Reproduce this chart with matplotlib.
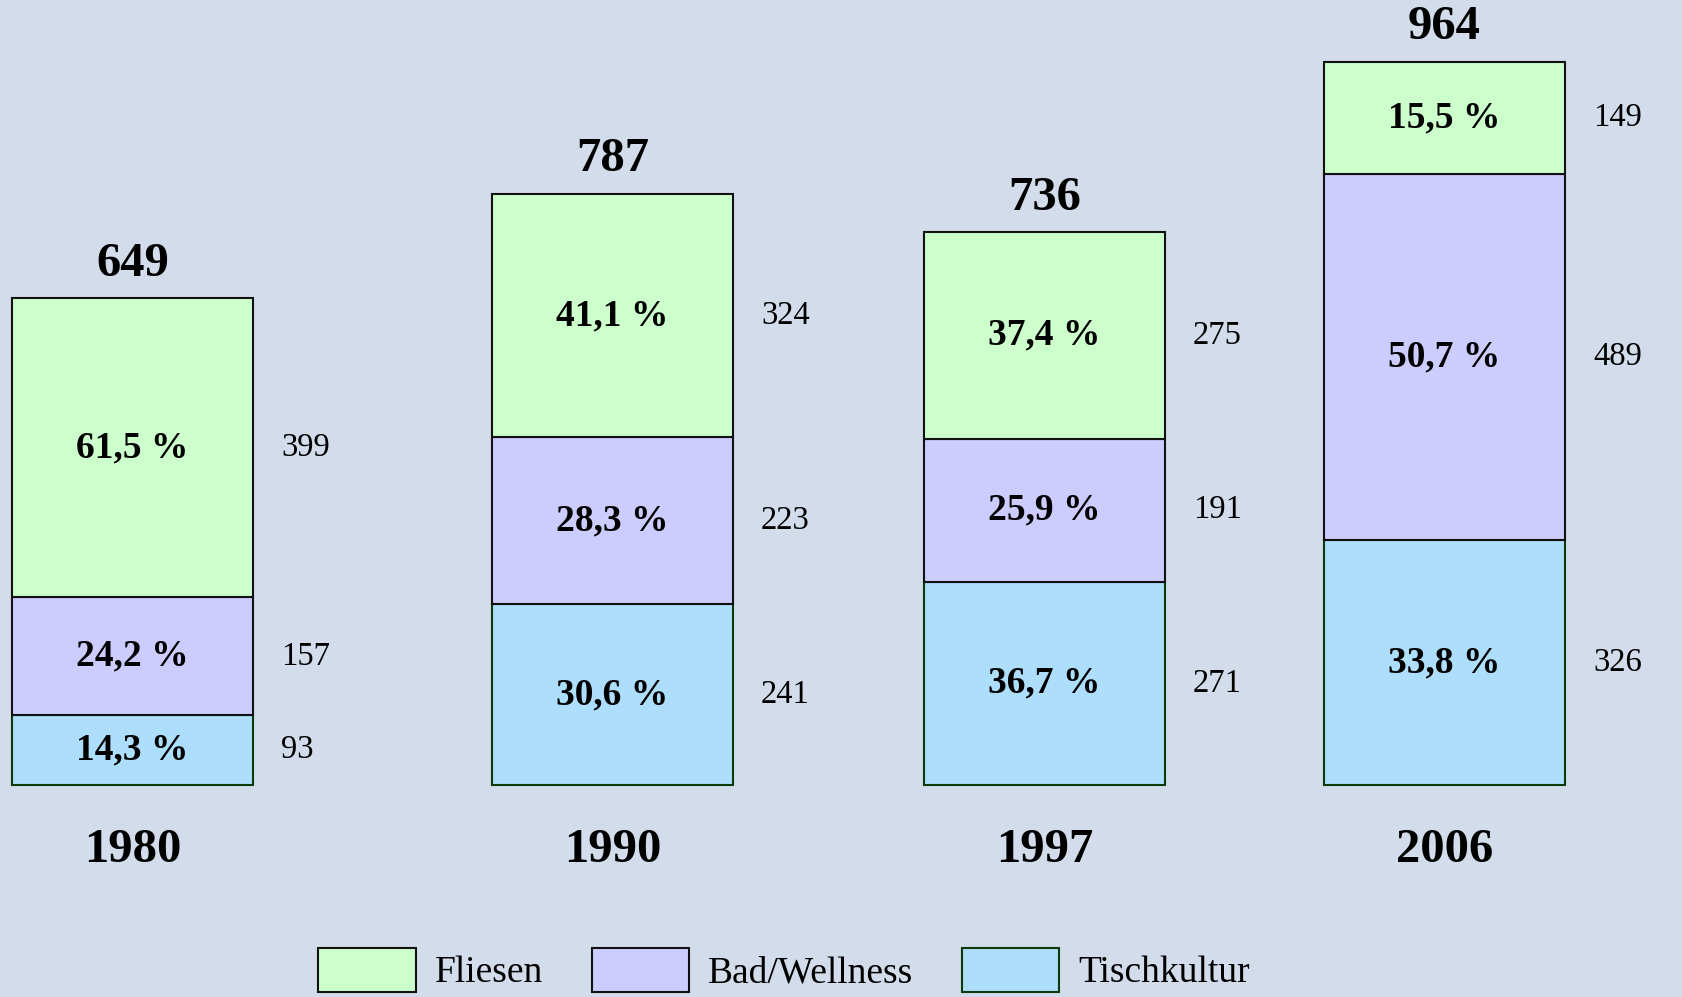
import matplotlib
matplotlib.use("Agg")
import matplotlib.pyplot as plt
from matplotlib.patches import Patch

plt.rcParams['font.family'] = ['Liberation Serif', 'DejaVu Serif']

# data
years = ["1980", "1990", "1997", "2006"]
totals = [649, 787, 736, 964]
tischkultur = [93, 241, 271, 326]
bad_wellness = [157, 223, 191, 489]
fliesen = [399, 324, 275, 149]
pct_tisch = ["14,3 %", "30,6 %", "36,7 %", "33,8 %"]
pct_bad = ["24,2 %", "28,3 %", "25,9 %", "50,7 %"]
pct_fliesen = ["61,5 %", "41,1 %", "37,4 %", "15,5 %"]
series_names = ["Fliesen", "Bad/Wellness", "Tischkultur"]

# layout (pixel-like x coordinates)
x_pos = [132.5, 612.5, 1044.5, 1444.5]
bar_w = 241

bg = "#D2DCEA"
c_fliesen = "#CCFFCC"
c_bad = "#CCCCFF"
c_tisch = "#ADDEFC"

fig = plt.figure(figsize=(16.83, 9.97), dpi=100, facecolor=bg)
ax = fig.add_axes([0, 0, 1, 1])
ax.set_facecolor(bg)
ax.set_xlim(0, 1683)
ax.set_ylim(-282.7, 1046.7)
ax.axis("off")

bottom_bad = tischkultur
bottom_fl = [t + b for t, b in zip(tischkultur, bad_wellness)]

ax.bar(x_pos, tischkultur, width=bar_w, color=c_tisch, edgecolor="#0B3B0B", linewidth=1.5)
ax.bar(x_pos, bad_wellness, width=bar_w, bottom=bottom_bad, color=c_bad, edgecolor="#111111", linewidth=1.5)
ax.bar(x_pos, fliesen, width=bar_w, bottom=bottom_fl, color=c_fliesen, edgecolor="#111111", linewidth=1.5)

segments = [
    (tischkultur, [0] * 4, pct_tisch),
    (bad_wellness, bottom_bad, pct_bad),
    (fliesen, bottom_fl, pct_fliesen),
]
for vals, bots, pcts in segments:
    for x, v, b, p in zip(x_pos, vals, bots, pcts):
        yc = b + v / 2
        ax.text(x, yc, p, ha="center", va="center", fontsize=27, fontweight="bold")
        ax.text(x + bar_w / 2 + 28, yc, str(v), ha="left", va="center", fontsize=23.5)

tops = [f + b for f, b in zip(fliesen, bottom_fl)]
for x, tot, top, yr in zip(x_pos, totals, tops, years):
    ax.annotate(str(tot), (x, top), xytext=(0, 25), textcoords="offset points",
                ha="center", va="center", fontsize=35, fontweight="bold")
    ax.annotate(yr, (x, 0), xytext=(0, -47), textcoords="offset points",
                ha="center", va="center", fontsize=35, fontweight="bold")

handles = [
    Patch(facecolor=c_fliesen, edgecolor="#111111", linewidth=1.5),
    Patch(facecolor=c_bad, edgecolor="#111111", linewidth=1.5),
    Patch(facecolor=c_tisch, edgecolor="#0B3B0B", linewidth=1.5),
]
fig.legend(handles, series_names, loc="center", bbox_to_anchor=(784 / 1683, 27 / 997),
           ncol=3, frameon=False, fontsize=27, handlelength=2.6, handleheight=1.45,
           handletextpad=0.5, columnspacing=1.3, borderpad=0)

fig.savefig("out.png", dpi=100, facecolor=bg)
